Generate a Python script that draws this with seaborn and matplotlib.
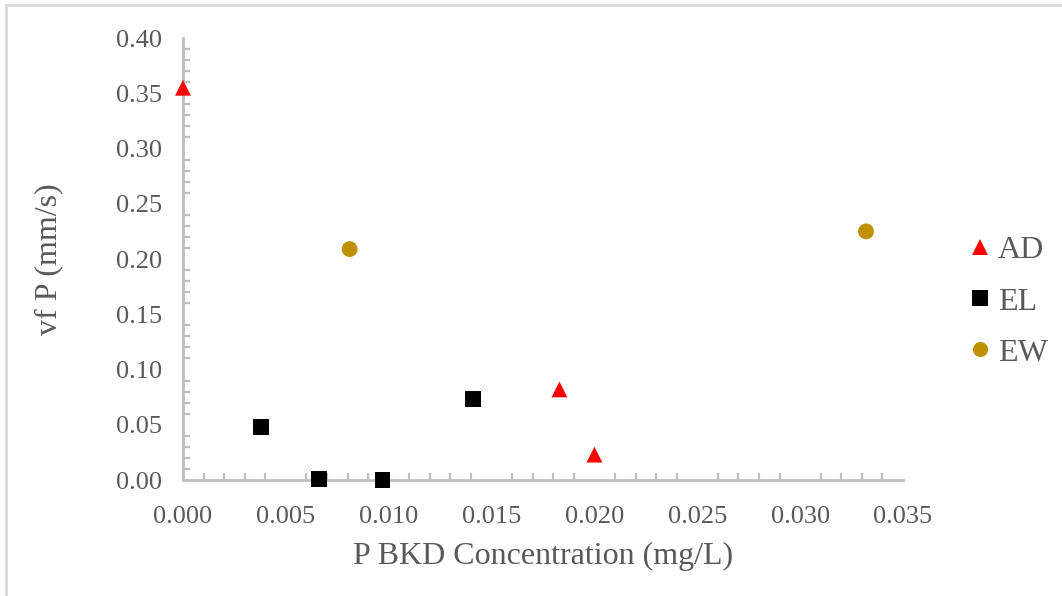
import numpy as np
import pandas as pd
import matplotlib
matplotlib.use('Agg')
import matplotlib.pyplot as plt
from matplotlib.ticker import MultipleLocator, FormatStrFormatter
from matplotlib.patches import Rectangle
import seaborn as sns

# data
ad_x = [0.0000, 0.0183, 0.0200]
ad_y = [0.355, 0.082, 0.023]
el_x = [0.0038, 0.0066, 0.0097, 0.0141]
el_y = [0.048, 0.001, 0.000, 0.073]
ew_x = [0.0081, 0.0332]
ew_y = [0.209, 0.225]

df = pd.DataFrame({
    'x': ad_x + el_x + ew_x,
    'y': ad_y + el_y + ew_y,
    'site': ['AD'] * len(ad_x) + ['EL'] * len(el_x) + ['EW'] * len(ew_x),
})

sns.set_style('white')
plt.rcParams['font.family'] = ['Liberation Serif', 'DejaVu Serif']

GREY_TXT = '#595959'
GREY_AX = '#BFBFBF'
palette = {'AD': '#FF0000', 'EL': '#000000', 'EW': '#BF9000'}
markers = {'AD': '^', 'EL': 's', 'EW': 'o'}

fig = plt.figure(figsize=(10.62, 5.96), dpi=100)
ax = fig.add_axes([0.1723, 0.1946, 0.8503 - 0.1723, 0.9362 - 0.1946])

sns.scatterplot(data=df, x='x', y='y', hue='site', style='site',
                palette=palette, markers=markers, s=130, linewidth=0,
                ax=ax, clip_on=False, zorder=5)

ax.set_xlim(0, 0.035)
ax.set_ylim(0, 0.40)
ax.xaxis.set_major_locator(MultipleLocator(0.005))
ax.xaxis.set_minor_locator(MultipleLocator(0.001))
ax.yaxis.set_major_locator(MultipleLocator(0.05))
ax.yaxis.set_minor_locator(MultipleLocator(0.01))
ax.xaxis.set_major_formatter(FormatStrFormatter('%.3f'))
ax.yaxis.set_major_formatter(FormatStrFormatter('%.2f'))

for s in ['top', 'right']:
    ax.spines[s].set_visible(False)
for s in ['left', 'bottom']:
    ax.spines[s].set_color(GREY_AX)
    ax.spines[s].set_linewidth(2)

ax.tick_params(which='major', direction='inout', length=10, width=1.6,
               color=GREY_AX, labelsize=19, labelcolor=GREY_TXT)
ax.tick_params(axis='y', which='major', pad=10)
ax.tick_params(axis='x', which='major', pad=14)
ax.tick_params(which='minor', direction='in', length=5, width=1.6,
               color=GREY_AX)
ax.tick_params(axis='x', which='minor', bottom=True)
ax.tick_params(axis='y', which='minor', left=True)

ax.set_xlabel('P BKD Concentration (mg/L)', fontsize=23, color=GREY_TXT, labelpad=10)
ax.set_ylabel('vf P (mm/s)', fontsize=23, color=GREY_TXT, labelpad=38)

# legend sits to the right of the plot area
leg = ax.legend(loc='center left', bbox_to_anchor=(1.085, 0.403), frameon=False,
                fontsize=23, labelspacing=0.68, handletextpad=0.05,
                handlelength=1.0, borderpad=0, markerscale=0.95,
                borderaxespad=0)
for t in leg.get_texts():
    t.set_color(GREY_TXT)

fig.patches.append(Rectangle((6 / 1062, -0.1), 1.2, 1 - 5 / 596 + 0.1,
                             transform=fig.transFigure, fill=False,
                             edgecolor='#D9D9D9', linewidth=2))

fig.savefig('out.png', dpi=100)
